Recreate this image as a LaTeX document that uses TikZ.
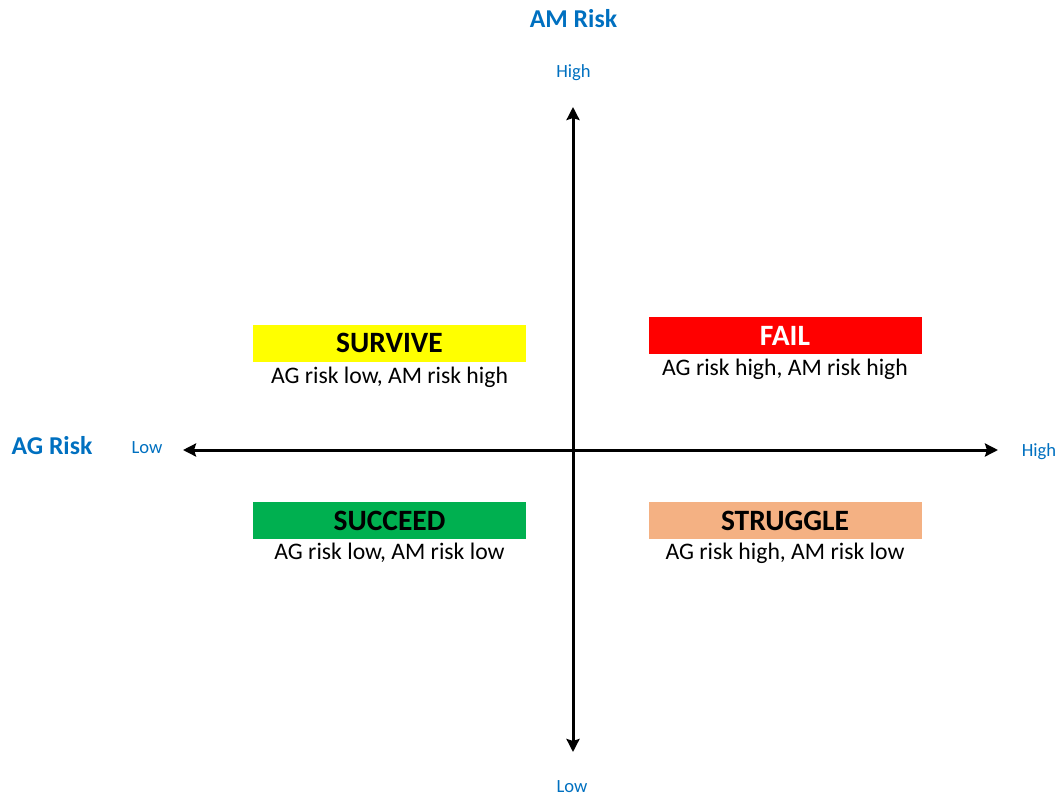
\documentclass[tikz,border=0pt]{standalone}
\usepackage{fontspec}
\setmainfont{Carlito}
\usetikzlibrary{arrows.meta}
\definecolor{axisblue}{HTML}{0070C0}
\definecolor{survivey}{HTML}{FFFF00}
\definecolor{failr}{HTML}{FF0000}
\definecolor{succeedg}{HTML}{00B050}
\definecolor{strugglep}{HTML}{F4B183}
\begin{document}
\begin{tikzpicture}[x=1pt,y=-1pt,
  axisarrow/.style={line width=3pt,-{Stealth[length=13pt,width=13pt,inset=2pt]}},
  axistitle/.style={text=axisblue,font=\fontsize{25.7}{29}\selectfont\bfseries,inner sep=0pt},
  axisend/.style={text=axisblue,font=\fontsize{18.6}{22}\selectfont,inner sep=0pt},
  quadbox/.style={minimum width=273pt,minimum height=37pt,inner sep=0pt,
    font=\fontsize{29.5}{33}\selectfont\bfseries},
  quadnote/.style={font=\fontsize{23.7}{27}\selectfont,inner sep=0pt}]
\useasboundingbox (0,0) rectangle (1061,804);

% axis end points
\coordinate (left) at (183,450);
\coordinate (right) at (998,450);
\coordinate (top) at (573,107);
\coordinate (bottom) at (573,752);
\coordinate (mid) at (573,450);

\draw[axisarrow] (mid) -- (left);
\draw[axisarrow] (mid) -- (right);
\draw[axisarrow] (mid) -- (top);
\draw[axisarrow] (mid) -- (bottom);

% axis titles and end labels
\node[axistitle] (amrisk) at (573.5,19) {AM Risk};
\node[axistitle] (agrisk) at (52,446) {AG Risk};
\node[axisend] (amhigh) at (573.5,73) {High};
\node[axisend] (amlow) at (572,787) {Low};
\node[axisend] (aglow) at (147,448) {Low};
\node[axisend] (aghigh) at (1039,452) {High};

% quadrants
\node[quadbox,fill=survivey] (survive) at (389.5,343) {SURVIVE};
\node[quadnote] (survivenote) at (389.5,377) {AG risk low, AM risk high};

\node[quadbox,fill=failr,text=white] (fail) at (785,335.5) {FAIL};
\node[quadnote] (failnote) at (785,369) {AG risk high, AM risk high};

\node[quadbox,fill=succeedg] (succeed) at (389.5,520.5) {SUCCEED};
\node[quadnote] (succeednote) at (389.5,553) {AG risk low, AM risk low};

\node[quadbox,fill=strugglep] (struggle) at (785,520.5) {STRUGGLE};
\node[quadnote] (strugglenote) at (785,553) {AG risk high, AM risk low};
\end{tikzpicture}
\end{document}
